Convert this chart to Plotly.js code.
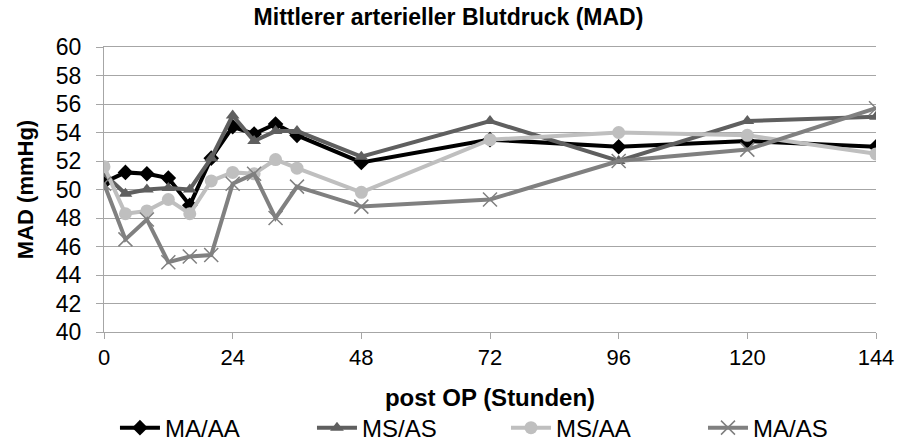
<!DOCTYPE html>
<html>
<head>
<meta charset="utf-8">
<script src="https://cdn.plot.ly/plotly-3.0.1.min.js"></script>
<style>html,body{margin:0;padding:0;background:#fff;}#chart{width:897px;height:445px;}</style>
</head>
<body>
<div id="chart"></div>
<script>
const hours = [0, 4, 8, 12, 16, 20, 24, 28, 32, 36, 48, 72, 96, 120, 144];
const maAA = [50.5, 51.2, 51.1, 50.8, 48.9, 52.2, 54.4, 53.9, 54.6, 53.8, 51.9, 53.5, 53.0, 53.4, 53.0];
const msAS = [51.1, 49.7, 50.0, 50.1, 50.0, 52.2, 55.2, 53.4, 54.1, 54.1, 52.3, 54.8, 52.0, 54.8, 55.1];
const msAA = [51.6, 48.3, 48.5, 49.3, 48.3, 50.6, 51.2, 51.1, 52.1, 51.5, 49.8, 53.5, 54.0, 53.8, 52.5];
const maAS = [50.4, 46.5, 47.9, 44.9, 45.3, 45.4, 50.4, 51.1, 48.0, 50.2, 48.8, 49.3, 52.0, 52.8, 55.7];
const seriesNames = ['MA/AA', 'MS/AS', 'MS/AA', 'MA/AS'];
const xTicks = [0, 24, 48, 72, 96, 120, 144];
const yTicks = [40, 42, 44, 46, 48, 50, 52, 54, 56, 58, 60];

const font = '"Liberation Sans", Arial, sans-serif';
function tr(y, name, color, symbol, size, legendId, mline) {
  return {
    x: hours, y: y, name: name, type: 'scatter', mode: 'lines+markers', legend: legendId,
    line: {color: color, width: 4},
    marker: {symbol: symbol, size: size, color: color, line: mline || {width: 0}}
  };
}
const data = [
  tr(maAA, seriesNames[0], '#000000', 'diamond', 12, 'legend'),
  tr(msAS, seriesNames[1], '#5f5f5f', 'triangle-up', 12, 'legend2'),
  tr(msAA, seriesNames[2], '#bfbfbf', 'circle', 13, 'legend3'),
  tr(maAS, seriesNames[3], '#808080', 'x-thin-open', 14, 'legend4', {width: 1.5, color: '#808080'})
];
function leg(x) {
  return {orientation: 'h', x: x, xanchor: 'left', y: -0.337, yanchor: 'middle',
    font: {size: 24, family: font, color: '#000'}, itemwidth: 40, bgcolor: 'rgba(0,0,0,0)', borderwidth: 0};
}
const layout = {
  width: 897, height: 445,
  margin: {l: 104, r: 21, t: 47, b: 113, autoexpand: false},
  paper_bgcolor: '#fff', plot_bgcolor: '#fff',
  font: {family: font, color: '#000'},
  title: {text: '<b>Mittlerer arterieller Blutdruck (MAD)</b>', font: {size: 23, family: font, color: '#000'}, x: 0.5, xanchor: 'center', y: 0.962, yanchor: 'middle'},
  xaxis: {
    range: [0, 144], tickvals: xTicks, ticktext: xTicks.map(String),
    showgrid: false, zeroline: false,
    showline: true, linecolor: '#a6a6a6', linewidth: 1, mirror: true,
    ticks: 'outside', ticklen: 6, tickcolor: '#a6a6a6',
    tickfont: {size: 22, family: font, color: '#000'},
    title: {text: '<b>post OP (Stunden)</b>', font: {size: 24, family: font, color: '#000'}, standoff: 19},
    automargin: true
  },
  yaxis: {
    range: [40, 60], tickvals: yTicks, ticktext: yTicks.map(String),
    showgrid: true, gridcolor: '#a6a6a6', gridwidth: 1, zeroline: false,
    showline: true, linecolor: '#a6a6a6', linewidth: 1,
    ticks: 'outside', ticklen: 7, tickcolor: '#a6a6a6', ticklabelstandoff: 10,
    tickfont: {size: 23, family: font, color: '#000'},
    title: {text: '<b>MAD (mmHg)</b>', font: {size: 22, family: font, color: '#000'}, standoff: 16},
    automargin: true
  },
  showlegend: true,
  legend: leg(0.0142),
  legend2: leg(0.2694),
  legend3: leg(0.5207),
  legend4: leg(0.7759)
};
Plotly.newPlot('chart', data, layout, {displayModeBar: false, staticPlot: true});
</script>
</body>
</html>
